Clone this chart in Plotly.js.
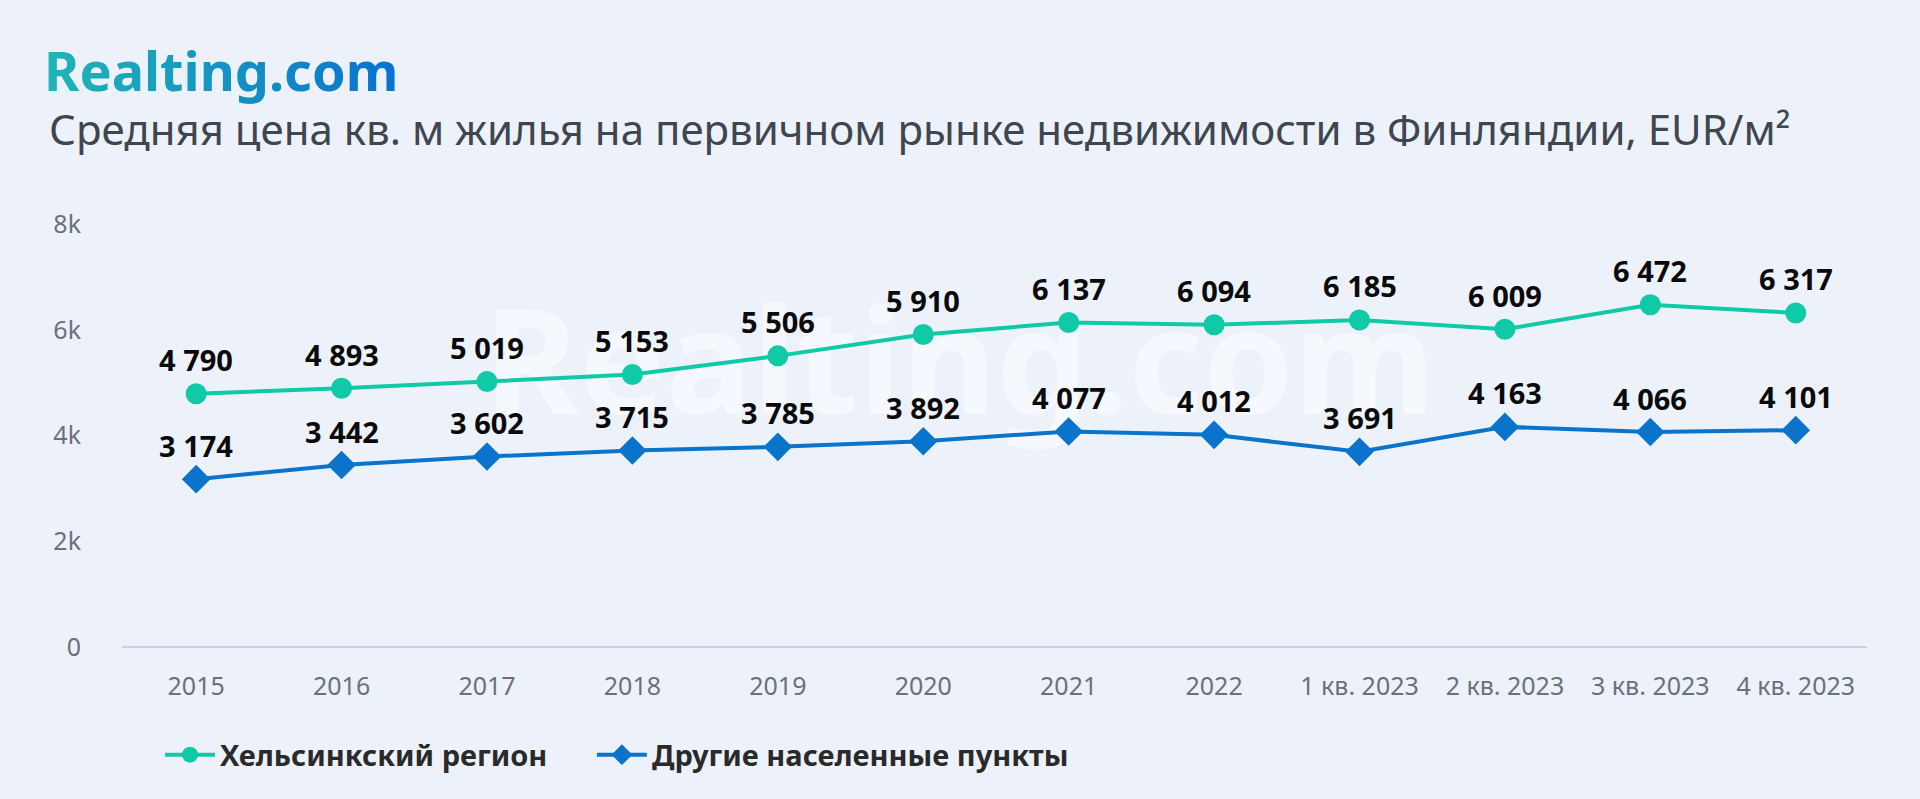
<!DOCTYPE html>
<html>
<head>
<meta charset="utf-8">
<script src="https://cdn.plot.ly/plotly-3.0.1.min.js"></script>
<style>
html,body{margin:0;padding:0;background:#edf2fa;}
#chart{width:1920px;height:799px;}
</style>
</head>
<body>
<div id="chart"></div>
<script>
const categories = ["2015","2016","2017","2018","2019","2020","2021","2022","1 кв. 2023","2 кв. 2023","3 кв. 2023","4 кв. 2023"];
const helsinki = [4790,4893,5019,5153,5506,5910,6137,6094,6185,6009,6472,6317];
const others = [3174,3442,3602,3715,3785,3892,4077,4012,3691,4163,4066,4101];
const seriesNames = ["Хельсинкский регион","Другие населенные пункты"];
const yTickVals = [0,2000,4000,6000,8000];
const yTickText = ["0","2k","4k","6k","8k"];
const logoText = "Realting.com";
const subtitle = "Средняя цена кв. м жилья на первичном рынке недвижимости в Финляндии, EUR/м²";

const green = "#10c9a6";
const blue = "#0a74cc";
const FONT = "Noto Sans, Lato, sans-serif";

function fmt(v){ return String(v).replace(/\B(?=(\d{3})+(?!\d))/g, " "); }

const traces = [
  {x:categories, y:helsinki, name:seriesNames[0], type:"scatter", mode:"lines+markers", legend:"legend",
   line:{color:green,width:4}, marker:{symbol:"circle",size:21,color:green}, hoverinfo:"skip"},
  {x:categories, y:others, name:seriesNames[1], type:"scatter", mode:"lines+markers", legend:"legend2",
   line:{color:blue,width:4}, marker:{symbol:"diamond",size:22,color:blue}, hoverinfo:"skip"}
];

const annotations = [];
[helsinki, others].forEach(arr=>{
  arr.forEach((v,i)=>{
    annotations.push({x:i, y:v, xref:"x", yref:"y", text:fmt(v), showarrow:false,
      yshift:34, font:{family:FONT, size:29, color:"#0a0a0a", weight:700}});
  });
});
annotations.push({xref:"paper", yref:"paper", x:-0.045, y:1.364, xanchor:"left", yanchor:"middle",
  text:logoText, showarrow:false, borderpad:0,
  font:{family:"Noto Sans, sans-serif", size:54, color:"#1591c4", weight:700}});
annotations.push({xref:"paper", yref:"paper", x:-0.0425, y:1.226, xanchor:"left", yanchor:"middle",
  text:subtitle, showarrow:false, borderpad:0, font:{family:FONT, size:42, color:"#40464f"}});

const legendCommon = {orientation:"h", y:-0.255, xanchor:"left", yanchor:"middle", itemwidth:50,
  font:{family:FONT, size:29, color:"#2a2a2a", weight:700}, bgcolor:"rgba(0,0,0,0)",
  itemclick:false, itemdoubleclick:false};

const layout = {
  width:1920, height:799,
  paper_bgcolor:"#edf2fa", plot_bgcolor:"#edf2fa",
  margin:{l:122, r:53, t:224, b:152},
  showlegend:true,
  legend:Object.assign({x:0.0218}, legendCommon),
  legend2:Object.assign({x:0.2693}, legendCommon),
  xaxis:{type:"category", range:[-0.51,11.49], showgrid:false, zeroline:false, showline:false,
    ticks:"", ticklabelstandoff:22, tickfont:{family:FONT, size:25, color:"#6b707c"}, fixedrange:true},
  yaxis:{range:[0,8000], tickvals:yTickVals, ticktext:yTickText, showgrid:false,
    zeroline:true, zerolinecolor:"#c9d2e8", zerolinewidth:2, showline:false, ticks:"",
    ticklabelstandoff:40, tickfont:{family:FONT, size:25, color:"#6b707c"}, fixedrange:true},
  shapes:[{type:"rect", xref:"paper", yref:"paper", x0:0.07, x1:0.89, y0:0.45, y1:0.87,
    layer:"below", line:{width:0}, fillcolor:"rgba(0,0,0,0)",
    label:{text:logoText, textposition:"middle center",
      font:{family:"Noto Sans, sans-serif", size:145, color:"rgba(255,255,255,0.45)", weight:700}}}],
  annotations:annotations
};

Plotly.newPlot("chart", traces, layout, {displayModeBar:false, staticPlot:true}).then(gd=>{
  const svg = gd.querySelector("svg.main-svg");
  const ns = "http://www.w3.org/2000/svg";
  let defs = svg.querySelector("defs");
  if(!defs){ defs = document.createElementNS(ns,"defs"); svg.insertBefore(defs, svg.firstChild); }
  const lg = document.createElementNS(ns,"linearGradient");
  lg.setAttribute("id","logoGrad"); lg.setAttribute("x1","0"); lg.setAttribute("x2","1");
  lg.setAttribute("y1","0"); lg.setAttribute("y2","0");
  [["0%","#20b6b6"],["100%","#0872d0"]].forEach(([o,c])=>{
    const s=document.createElementNS(ns,"stop"); s.setAttribute("offset",o); s.setAttribute("stop-color",c); lg.appendChild(s);
  });
  defs.appendChild(lg);
  gd.querySelectorAll("text.annotation-text").forEach(t=>{
    if(t.textContent===logoText){ t.style.fill="url(#logoGrad)"; }
  });
});
</script>
</body>
</html>
